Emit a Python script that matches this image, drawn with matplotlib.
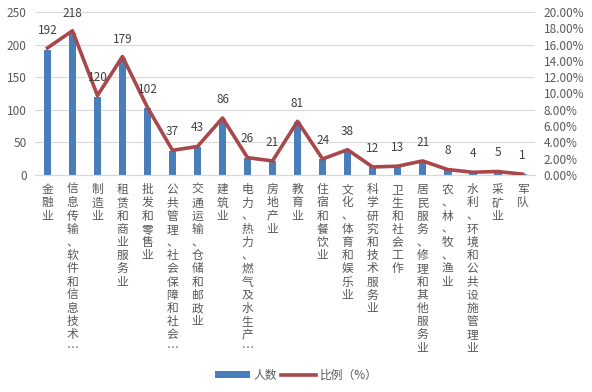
import matplotlib
matplotlib.use("Agg")
import matplotlib.pyplot as plt
from matplotlib.ticker import FuncFormatter, MultipleLocator

plt.rcParams['font.family'] = ['Noto Sans CJK SC', 'DejaVu Sans']

categories = ["金融业", "信息传输、软件和信息技术…", "制造业", "租赁和商业服务业", "批发和零售业",
              "公共管理、社会保障和社会…", "交通运输、仓储和邮政业", "建筑业", "电力、热力、燃气及水生产…",
              "房地产业", "教育业", "住宿和餐饮业", "文化、体育和娱乐业", "科学研究和技术服务业",
              "卫生和社会工作", "居民服务、修理和其他服务业", "农、林、牧、渔业",
              "水利、环境和公共设施管理业", "采矿业", "军队"]
counts = [192, 218, 120, 179, 102, 37, 43, 86, 26, 21, 81, 24, 38, 12, 13, 21, 8, 4, 5, 1]
ratios = [15.60, 17.71, 9.75, 14.54, 8.29, 3.01, 3.49, 6.99, 2.11, 1.71, 6.58, 1.95,
          3.09, 0.97, 1.06, 1.71, 0.65, 0.32, 0.41, 0.08]

bar_color = "#4A7EBB"
line_color = "#A8484A"
text_color = "#595959"

fig = plt.figure(figsize=(5.92, 3.92), dpi=100)
ax = fig.add_axes([0.059, 0.554, 0.845, 0.415])
ax2 = ax.twinx()

x = list(range(len(categories)))
bars = ax.bar(x, counts, width=0.31, color=bar_color, zorder=2, label="人数")
ax.set_ylim(0, 250)
ax.set_xlim(-0.5, len(categories) - 0.5)
ax.yaxis.set_major_locator(MultipleLocator(50))
ax.grid(axis='y', color="#D9D9D9", linewidth=0.8, zorder=0)
ax.set_axisbelow(True)

line, = ax2.plot(x, ratios, color=line_color, linewidth=2.6, zorder=3, label="比例（%）",
                 solid_joinstyle='round')
ax2.set_ylim(0, 20)
ax2.yaxis.set_major_locator(MultipleLocator(2))
ax2.yaxis.set_major_formatter(FuncFormatter(lambda v, p: f"{v:.2f}%"))

for a in (ax, ax2):
    for s in ['top', 'left', 'right']:
        a.spines[s].set_visible(False)
    a.spines['bottom'].set_color("#D9D9D9")
    a.tick_params(length=0, labelsize=8.5, labelcolor=text_color)

ax.set_xticks(x)
ax.set_xticklabels(["\n".join(c) for c in categories], fontsize=8.5, linespacing=1.02,
                   color=text_color)
ax.tick_params(axis='x', pad=6)
ax.tick_params(axis='y', pad=6)
ax2.tick_params(axis='y', pad=6)

for xi, c in zip(x, counts):
    ax2.annotate(str(c), (xi, c * 20 / 250), xytext=(0, 9), textcoords='offset points',
                 ha='center', va='bottom', fontsize=8.5, color="#404040", zorder=5)

fig.legend(handles=[bars, line], labels=["人数", "比例（%）"], loc='center',
           bbox_to_anchor=(0.5, 0.043), ncol=2, frameon=False, fontsize=8.5,
           labelcolor=text_color, handlelength=3.0, handleheight=0.6,
           columnspacing=0.3, handletextpad=0.3)
fig.legend_ = None

fig.savefig("out.png", dpi=100, facecolor="white")
